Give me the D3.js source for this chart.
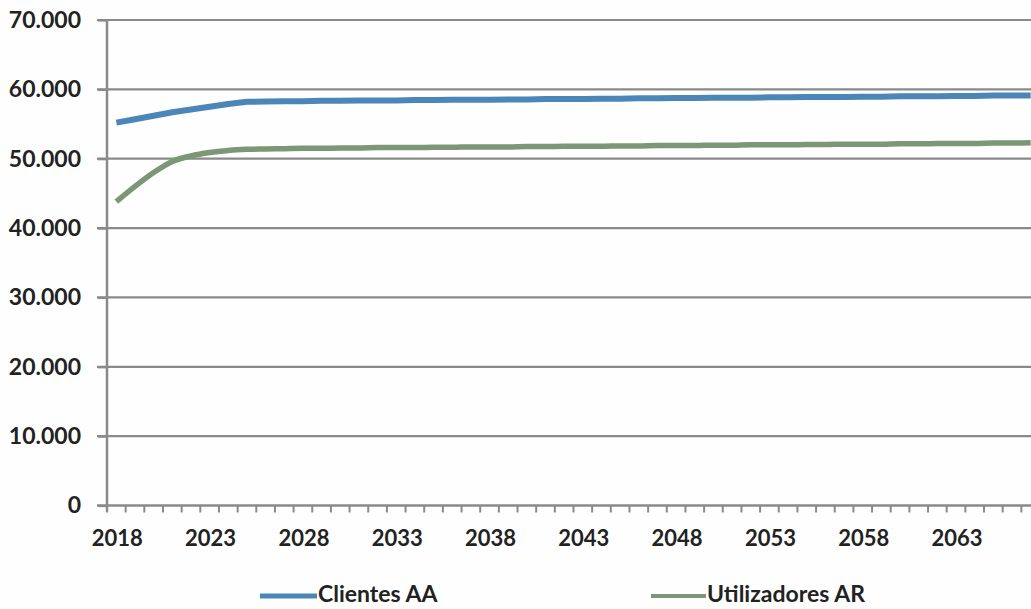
<!DOCTYPE html>
<html>
<head>
<meta charset="utf-8">
<script src="https://cdn.jsdelivr.net/npm/d3@7"></script>
<style>
  html, body { margin: 0; padding: 0; background: #fefefe; }
  svg { display: block; }
  text { font-family: Lato, "Open Sans", sans-serif; fill: #222; }
</style>
</head>
<body>
<svg id="chart" width="1031" height="609"></svg>
<script>
// Years on the category axis
const years = d3.range(2018, 2068);

// Clientes AA (number of clients)
const clientesAA = [
  55200, 55700, 56200, 56700, 57100, 57500, 57900, 58200, 58250, 58300,
  58300, 58350, 58350, 58400, 58400, 58400, 58450, 58450, 58500, 58500,
  58500, 58550, 58550, 58600, 58600, 58600, 58650, 58650, 58700, 58700,
  58750, 58750, 58800, 58800, 58800, 58850, 58850, 58900, 58900, 58900,
  58950, 58950, 59000, 59000, 59000, 59050, 59050, 59100, 59100, 59100
];

// Utilizadores AR (number of users)
const utilizadoresAR = [
  43800, 46000, 48000, 49600, 50400, 50900, 51200, 51350, 51400, 51450,
  51500, 51500, 51550, 51550, 51600, 51600, 51600, 51650, 51650, 51700,
  51700, 51700, 51750, 51750, 51800, 51800, 51800, 51850, 51850, 51900,
  51900, 51900, 51950, 51950, 52000, 52000, 52000, 52050, 52050, 52100,
  52100, 52100, 52150, 52150, 52200, 52200, 52200, 52250, 52250, 52300
];

const yTicks = [0, 10000, 20000, 30000, 40000, 50000, 60000, 70000];
const xLabelYears = [2018, 2023, 2028, 2033, 2038, 2043, 2048, 2053, 2058, 2063];

const seriesNames = ["Clientes AA", "Utilizadores AR"];
const seriesColors = ["#4b86b9", "#7c9775"];

const svg = d3.select("#chart");
const plot = { left: 107, top: 20, right: 1040, bottom: 505.5 };

const x = d3.scaleBand().domain(years).range([plot.left, plot.right]).padding(0);
const y = d3.scaleLinear().domain([0, 70000]).range([plot.bottom, plot.top]);

const loc = d3.formatLocale({ decimal: ",", thousands: ".", grouping: [3], currency: ["", ""] });
const fmt = loc.format(",.0f");

const gridColor = "#8a8a8a";

// Horizontal gridlines with small outer ticks on the left
const gGrid = svg.append("g");
gGrid.selectAll("line").data(yTicks.filter(d => d > 0)).join("line")
  .attr("x1", plot.left - 10).attr("x2", 1031)
  .attr("y1", d => y(d)).attr("y2", d => y(d))
  .attr("stroke", gridColor).attr("stroke-width", 2.2);

// Y axis
const yAxis = d3.axisLeft(y).tickValues(yTicks).tickFormat(fmt).tickSize(9).tickPadding(17);
const gy = svg.append("g").attr("transform", `translate(${plot.left},0)`).call(yAxis);
gy.select(".domain").attr("stroke", gridColor).attr("stroke-width", 2.5)
  .attr("d", `M0,${plot.top}V${plot.bottom + 6}`);
gy.selectAll(".tick line").attr("stroke", gridColor).attr("stroke-width", 2.2);
gy.selectAll(".tick text")
  .style("font-size", "23px").style("font-weight", "700").attr("fill", "#222");

// X axis: band boundaries get tick marks, every fifth year gets a label
const gx = svg.append("g").attr("transform", `translate(0,${plot.bottom})`);
gx.append("line").attr("x1", plot.left - 10).attr("x2", 1031)
  .attr("stroke", gridColor).attr("stroke-width", 2.5);
gx.selectAll("line.tk").data(years).join("line").attr("class", "tk")
  .attr("x1", d => x(d)).attr("x2", d => x(d))
  .attr("y1", 0).attr("y2", 7)
  .attr("stroke", gridColor).attr("stroke-width", 2);
gx.selectAll("text").data(xLabelYears).join("text")
  .attr("x", d => x(d) + x.bandwidth() / 2 + 1)
  .attr("y", 40)
  .attr("text-anchor", "middle")
  .style("font-size", "22px").style("font-weight", "700")
  .text(d => d);

// Series lines: the user series is smoothed, the client series is straight segments
const lineFor = curve => d3.line()
  .x((d, i) => x(years[i]) + x.bandwidth() / 2)
  .y(d => y(d))
  .curve(curve);

svg.append("clipPath").attr("id", "plotclip")
  .append("rect").attr("x", plot.left).attr("y", 0).attr("width", 1031 - plot.left).attr("height", 609);

svg.append("path")
  .datum(utilizadoresAR)
  .attr("clip-path", "url(#plotclip)")
  .attr("d", lineFor(d3.curveMonotoneX))
  .attr("fill", "none")
  .attr("stroke", seriesColors[1])
  .attr("stroke-width", 5.5)
  .attr("stroke-linejoin", "round");

svg.append("path")
  .datum(clientesAA)
  .attr("clip-path", "url(#plotclip)")
  .attr("d", lineFor(d3.curveLinear))
  .attr("fill", "none")
  .attr("stroke", seriesColors[0])
  .attr("stroke-width", 6)
  .attr("stroke-linejoin", "round");

// Legend
const legendPos = [{ x: 260, tx: 318 }, { x: 651, tx: 707 }];
const gl = svg.append("g");
seriesNames.forEach((name, i) => {
  gl.append("line")
    .attr("x1", legendPos[i].x).attr("x2", legendPos[i].tx - 1)
    .attr("y1", 596).attr("y2", 596)
    .attr("stroke", seriesColors[i]).attr("stroke-width", i === 0 ? 5 : 4);
  gl.append("text")
    .attr("x", legendPos[i].tx).attr("y", 602)
    .style("font-size", "23px").style("font-weight", "700")
    .text(name);
});
</script>
</body>
</html>
